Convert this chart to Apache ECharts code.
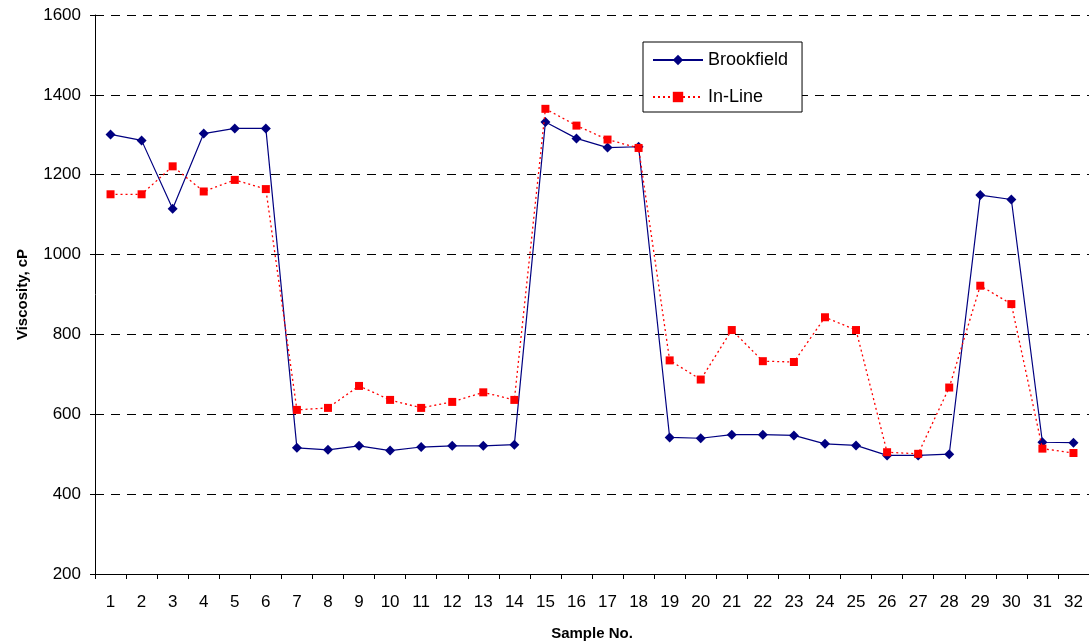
<!DOCTYPE html>
<html><head><meta charset="utf-8">
<script src="https://cdn.jsdelivr.net/npm/echarts@6/dist/echarts.min.js"></script>
<style>html,body{margin:0;padding:0;background:#fff}#c{width:1089px;height:642px}</style>
</head><body><div id="c"></div>
<script>
const categories = ['1','2','3','4','5','6','7','8','9','10','11','12','13','14','15','16','17','18','19','20','21','22','23','24','25','26','27','28','29','30','31','32'];
const brookfield = [1301,1286,1115,1303,1316,1316,516,511,521,509,518,521,521,524,1332,1291,1268,1270,542,540,549,549,547,526,522,497,497,500,1149,1138,530,529];
const inLine = [1151,1151,1221,1158,1187,1164,611,616,671,636,616,631,655,636,1365,1323,1288,1267,735,687,811,733,731,843,811,505,501,667,922,876,514,503];
const yTicks = [200,400,600,800,1000,1200,1400,1600];

const chart = echarts.init(document.getElementById('c'), null, {renderer:'canvas'});
const font = 'Liberation Sans, Arial, sans-serif';
chart.setOption({
  animation:false,
  backgroundColor:'#fff',
  grid:{left:95, right:0, top:15, bottom:68, containLabel:false, outerBoundsMode:'none'},
  legend:{
    orient:'vertical', left:643, top:42,
    padding:[9,14,6,9], itemGap:19, itemWidth:50, itemHeight:13,
    backgroundColor:'#fff', borderColor:'#000', borderWidth:1,
    textStyle:{fontFamily:font, fontSize:18, lineHeight:18, color:'#000'},
    data:['Brookfield','In-Line']
  },
  xAxis:{
    type:'category', data:categories, boundaryGap:true,
    name:'Sample No.', nameLocation:'middle', nameGap:52,
    nameTextStyle:{fontFamily:font, fontSize:15, fontWeight:'bold', color:'#000'},
    axisLine:{lineStyle:{color:'#000', width:1}},
    axisTick:{show:true, alignWithLabel:false, length:5, lineStyle:{color:'#000'}},
    axisLabel:{fontFamily:font, fontSize:17, color:'#000', margin:20, interval:0},
    splitLine:{show:false}
  },
  yAxis:{
    type:'value', min:yTicks[0], max:yTicks[yTicks.length-1], interval:200,
    name:'Viscosity, cP', nameLocation:'middle', nameGap:65, nameRotate:90,
    nameTextStyle:{fontFamily:font, fontSize:15, fontWeight:'bold', color:'#000'},
    axisLine:{show:true, lineStyle:{color:'#000', width:1}},
    axisTick:{show:true, length:5, lineStyle:{color:'#000'}},
    axisLabel:{fontFamily:font, fontSize:17, color:'#000', margin:14, formatter:function(v){return String(v);}},
    splitLine:{show:true, lineStyle:{color:'#000', type:[9,7], width:1}}
  },
  series:[
    {name:'Brookfield', type:'line', data:brookfield, symbol:'diamond', symbolSize:10,
     itemStyle:{color:'#000080'}, lineStyle:{color:'#000080', width:1.2}, z:2},
    {name:'In-Line', type:'line', data:inLine, symbol:'rect', symbolSize:8,
     itemStyle:{color:'#ff0000'}, lineStyle:{color:'#ff0000', width:1.3, type:[2,3]}, z:3}
  ]
});
</script></body></html>
